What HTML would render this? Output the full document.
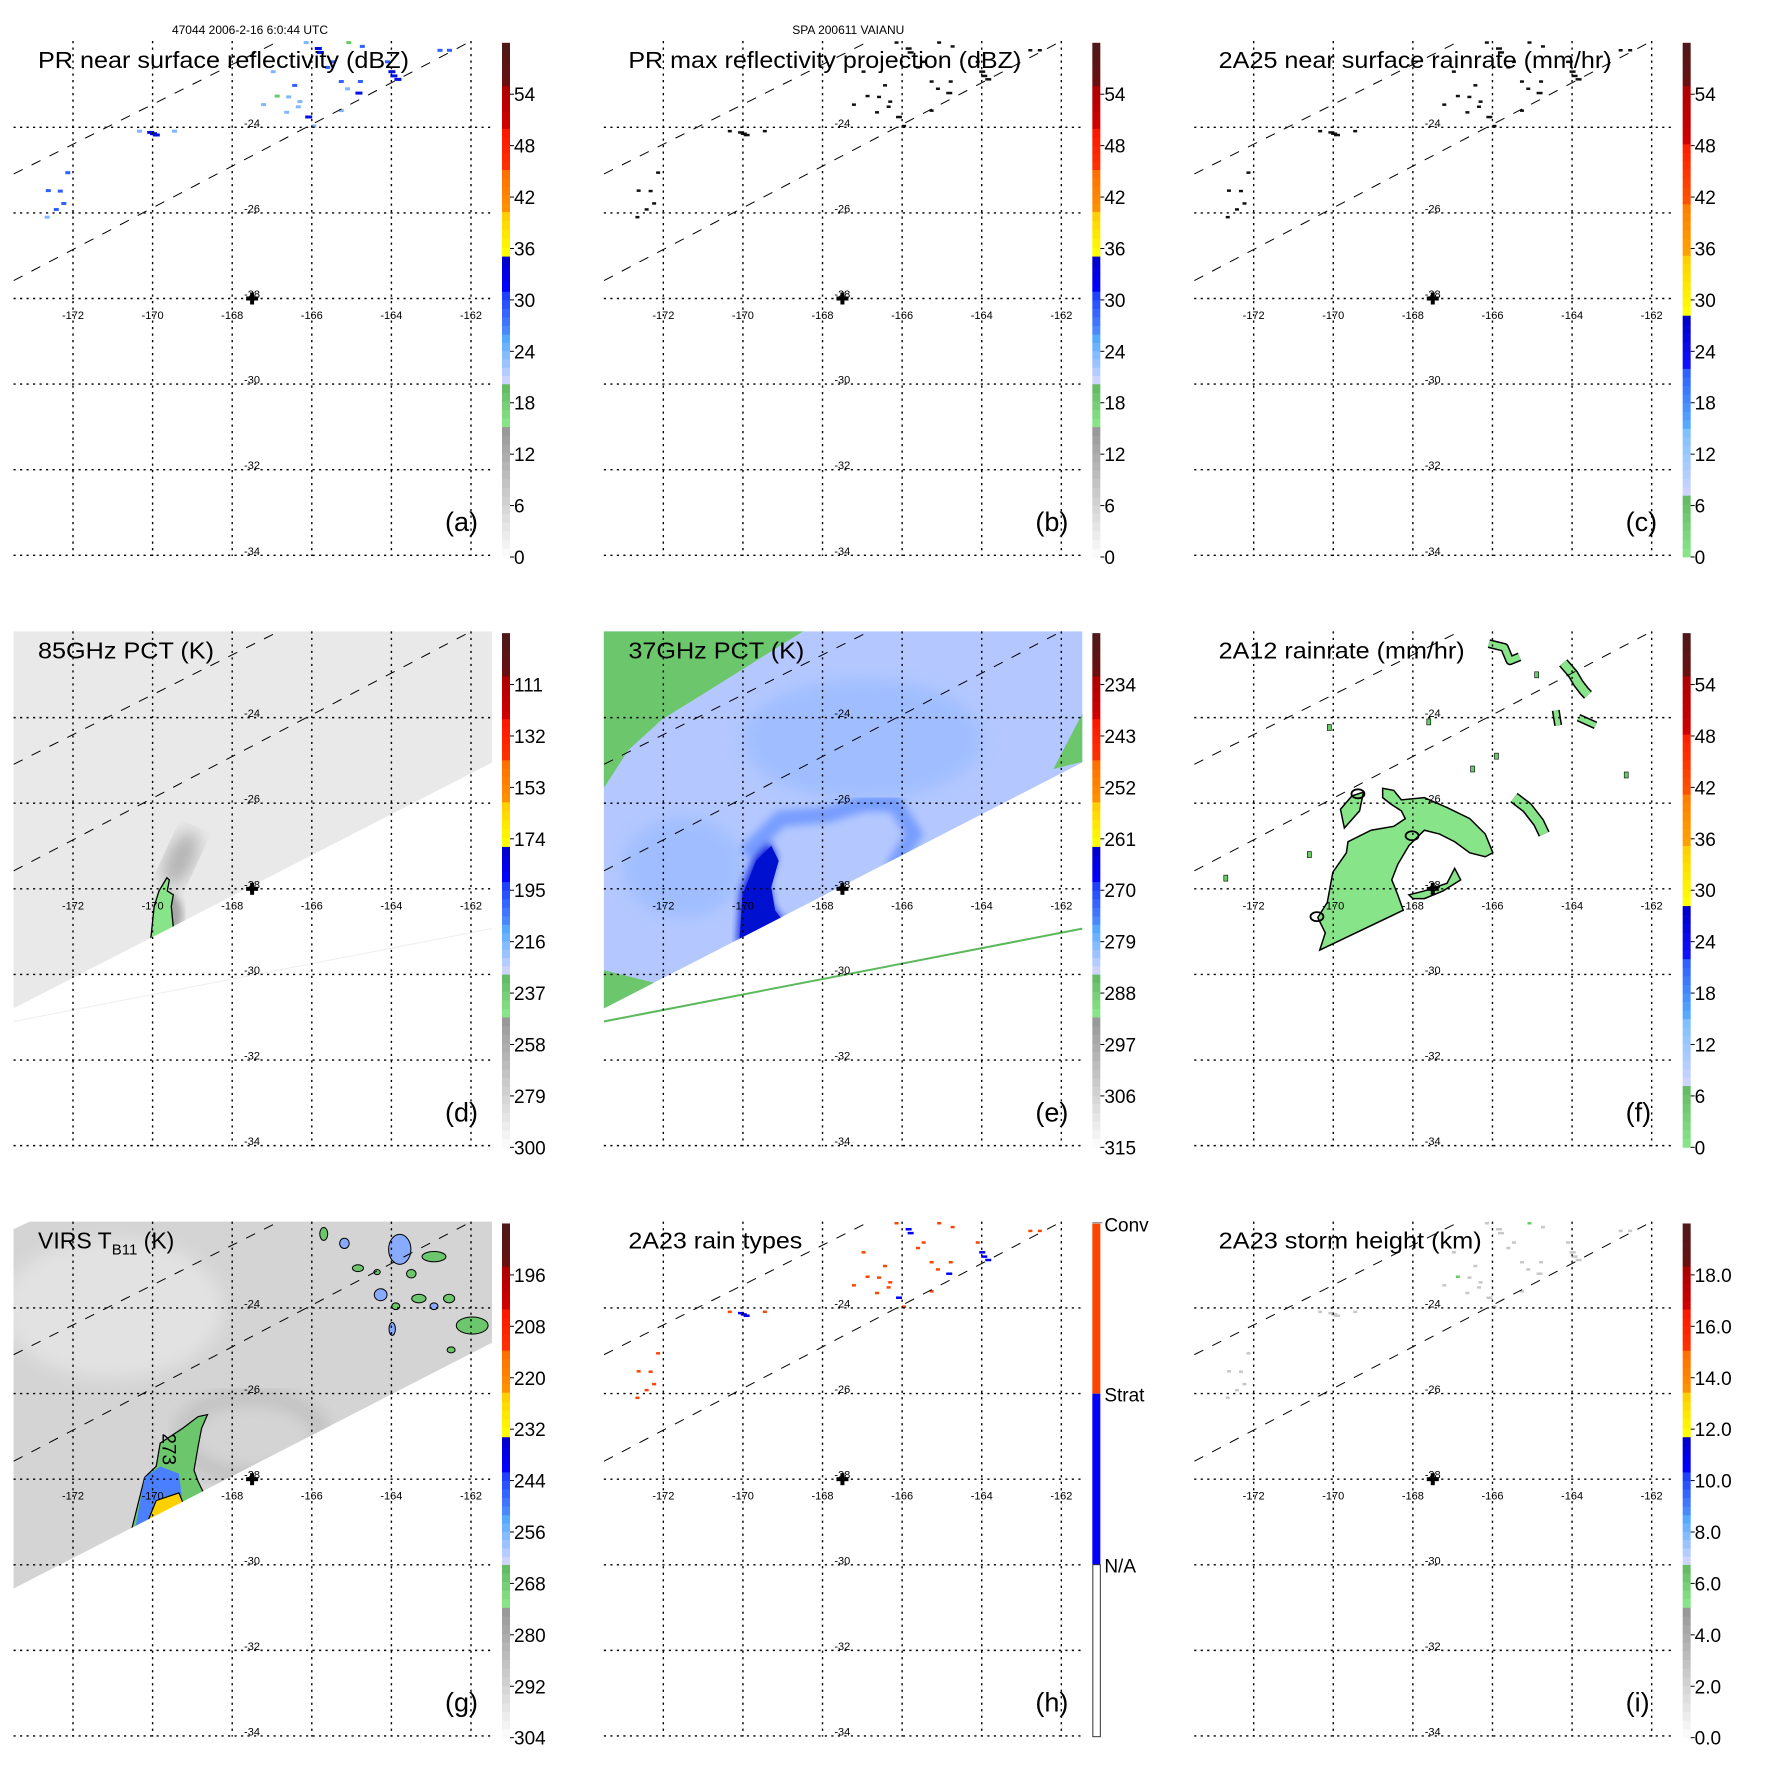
<!DOCTYPE html>
<html><head><meta charset="utf-8">
<style>
html,body{margin:0;padding:0;background:#fff;width:1771px;height:1771px;overflow:hidden;}
svg{display:block;position:absolute;left:0;top:0;font-family:"Liberation Sans",sans-serif;}
</style></head>
<body>
<svg id="fig" width="1771" height="1771" viewBox="0 0 1771 1771" overflow="hidden" xmlns="http://www.w3.org/2000/svg">
<defs>
<filter id="blur4"><feGaussianBlur stdDeviation="4"/></filter>
<filter id="blur8"><feGaussianBlur stdDeviation="8"/></filter>
</defs>
</svg>
<script>
// ---------- data ----------
const lonTicks = [-172,-170,-168,-166,-164,-162];
const latTicks = [-24,-26,-28,-30,-32,-34];
const lonLabels = ["-172","-170","-168","-166","-164","-162"];
const latLabels = ["-24","-26","-28","-30","-32","-34"];
const extentLon = [-173.5,-161.47];
const extentLat = [-34.02,-21.98];
const centerLon = -167.5, centerLat = -28;

const titles = ["PR near surface reflectivity (dBZ)","PR max reflectivity projection (dBZ)","2A25 near surface rainrate (mm/hr)",
  "85GHz PCT (K)","37GHz PCT (K)","2A12 rainrate (mm/hr)","VIRS T_B11 (K)","2A23 rain types","2A23 storm height (km)"];
const titleWidths = [371,393,393,176,176,246,148,174,263];
const letters = ["(a)","(b)","(c)","(d)","(e)","(f)","(g)","(h)","(i)"];
const cbLabelsA = ["54","48","42","36","30","24","18","12","6","0"];
const cbLabelsC = ["54","48","42","36","30","24","18","12","6","0"];
const cbLabelsD = ["111","132","153","174","195","216","237","258","279","300"];
const cbLabelsE = ["234","243","252","261","270","279","288","297","306","315"];
const cbLabelsF = ["54","48","42","36","30","24","18","12","6","0"];
const cbLabelsG = ["196","208","220","232","244","256","268","280","292","304"];
const cbLabelsI = ["18.0","16.0","14.0","12.0","10.0","8.0","6.0","4.0","2.0","0.0"];
const cbTickValues = [54,48,42,36,30,24,18,12,6,0];
const rainTypeLabels = ["Conv","Strat","N/A"];

const dash1Lon = [-173.49,-166.9], dash1Lat = [-25.09,-22.02];
const dash2Lon = [-173.49,-162.13], dash2Lat = [-27.58,-22.05];

const speckLon = [-169.99,-169.92,-170.06,-170.33,-169.45,-172.62,-172.32,-172.23,-172.42,-172.65,-172.13,-166.43,-166.58,-166.34,-166.63,-166.09,-167.21,-165.95,-165.85,-165.80,-165.46,-165.26,-164.78,-164.83,-164.00,-163.85,-164.10,-165.26,-162.78,-162.54,-164.73,-166.87,-165.07,-166.14,-166.97,-165.60,-163.95,-166.30,-165.10];
const speckLat = [-24.15,-24.18,-24.12,-24.09,-24.09,-25.48,-25.49,-25.78,-25.92,-26.10,-25.06,-23.02,-23.29,-23.52,-23.65,-23.76,-23.47,-23.97,-22.16,-22.25,-22.47,-22.93,-22.93,-23.20,-22.70,-22.88,-22.47,-23.61,-22.20,-22.20,-22.11,-23.27,-22.02,-22.02,-22.70,-22.60,-22.80,-23.40,-23.10];
const speckKind = ["d","d","d","l","l","b","b","b","b","l","b","b","l","l","l","d","l","l","d","d","b","b","b","d","d","d","b","l","b","b","b","g","g","l","l","b","d","l","l"];

const d85Lon = [-170.06,-169.96,-169.84,-169.64,-169.58,-169.63,-169.48,-169.53,-169.48,-169.26];
const d85Lat = [-29.30,-28.41,-28.05,-27.74,-27.79,-28.05,-28.14,-28.41,-28.90,-28.94];
const pmSwathLon = [-173.5,-161.47], pmSwathLat = [-30.8,-25.05];
const virsSwathLon = [-173.5,-161.47], virsSwathLat = [-30.56,-24.81];
const faintLineLat = [-31.1,-28.93];
const e37DarkLon = [-170.15,-170.06,-169.72,-169.34,-169.15,-169.34,-169.24,-168.96];
const e37DarkLat = [-29.30,-28.05,-27.25,-26.90,-27.25,-27.87,-28.41,-28.76];
const e37RingLon = [-169.82,-169.05,-167.90,-166.95,-166.18,-165.70,-166.18];
const e37RingLat = [-27.07,-26.36,-26.27,-26.01,-26.01,-26.72,-27.43];
const e37GreenLon = [-173.5,-168.48,-170.97,-172.03,-172.88,-173.5];
const e37GreenLat = [-21.98,-21.98,-23.43,-24.04,-24.76,-25.65];
const e37Green2Lon = [-173.5,-172.2,-173.5];
const e37Green2Lat = [-29.9,-30.2,-30.8];
const e37Green3Lon = [-161.47,-162.2,-161.47];
const e37Green3Lat = [-23.9,-25.2,-25.03];
const fOuterLon = [-170.34,-170.20,-170.39,-170.15,-170.01,-169.67,-169.63,-169.05,-168.48,-168.19,-168.29,-168.57,-168.76,-168.76,-168.48,-168.29,-167.71,-167.14,-166.57,-166.18,-165.99,-166.18,-166.57,-166.95,-167.33,-167.71,-168.10,-168.38,-168.53,-168.38,-168.24];
const fOuterLat = [-29.43,-29.03,-28.67,-28.32,-27.61,-27.16,-26.90,-26.63,-26.54,-26.36,-26.18,-26.01,-25.87,-25.65,-25.70,-25.92,-25.87,-26.10,-26.36,-26.72,-27.16,-27.25,-27.16,-26.90,-26.72,-26.63,-26.99,-27.43,-27.79,-28.14,-28.50];
const fStarLon = [-168.10,-167.71,-167.14,-166.95,-166.80,-167.24,-167.71,-168.00];
const fStarLat = [-28.14,-28.05,-27.87,-27.52,-27.79,-28.05,-28.23,-28.23];
const fLeftLon = [-169.72,-169.82,-169.53,-169.24,-169.34];
const fLeftLat = [-26.58,-26.14,-25.83,-25.74,-26.18];
const fRingLon = [-169.38,-168.02,-170.41];
const fRingLat = [-25.78,-26.76,-28.65];
const fStripALon = [-166.09,-165.70,-165.56,-165.32], fStripALat = [-22.27,-22.36,-22.67,-22.58];
const fStripBLon = [-164.22,-163.98,-163.84,-163.69,-163.60], fStripBLat = [-22.72,-22.98,-23.20,-23.38,-23.47];
const fStripCLon = [-164.41,-164.35], fStripCLat = [-23.83,-24.18];
const fStripDLon = [-163.84,-163.41], fStripDLat = [-24.0,-24.18];
const fStripELon = [-165.46,-165.13,-164.84,-164.70], fStripELat = [-25.87,-26.10,-26.45,-26.72];
const fDotLon = [-170.10,-164.89,-162.64,-167.6,-165.9,-166.5,-172.7,-170.6];
const fDotLat = [-24.23,-23.00,-25.34,-24.1,-24.9,-25.2,-27.75,-27.2];
const gGreenLon = [-170.54,-170.20,-169.91,-169.81,-169.24,-168.86,-168.62,-168.77,-168.86,-168.96,-168.86,-168.67,-168.96,-170.02];
const gGreenLat = [-29.23,-27.96,-27.70,-27.16,-26.81,-26.54,-26.49,-26.81,-27.25,-27.79,-28.05,-28.41,-28.59,-29.03];
const gBlueLon = [-170.44,-170.20,-169.81,-169.34,-169.24,-170.02];
const gBlueLat = [-29.16,-27.96,-27.70,-27.87,-28.59,-29.03];
const gYellowLon = [-170.10,-169.91,-169.34,-169.20,-169.91];
const gYellowLat = [-28.94,-28.50,-28.32,-28.63,-29.03];
const gBlobLon = [-165.70,-165.18,-164.84,-164.36,-163.79,-163.50,-162.93,-164.27,-163.89,-163.31,-162.93,-162.55,-161.97,-163.98,-162.50];
const gBlobLat = [-22.27,-22.49,-23.07,-23.16,-22.63,-23.20,-22.80,-23.69,-23.96,-23.78,-23.96,-23.78,-24.41,-24.49,-24.98];
const gBlobRx = [0.10,0.12,0.14,0.08,0.28,0.12,0.30,0.16,0.10,0.18,0.10,0.14,0.40,0.08,0.10];
const gBlobRy = [0.15,0.12,0.08,0.06,0.35,0.10,0.12,0.14,0.08,0.10,0.08,0.10,0.20,0.15,0.07];

// ---------- helpers ----------
const NS = "http://www.w3.org/2000/svg";
const svg = document.getElementById("fig");
const P = 1771/3;
const X = lon => 73 + (lon + 172) * 39.8;
const Y = lat => 298.5 + (-28 - lat) * 42.8;
const BOT = extentLat[0];
function mk(tag, attrs, parent){ const e=document.createElementNS(NS,tag); for(const k in attrs) e.setAttribute(k,attrs[k]); if(parent) parent.appendChild(e); return e; }
function pts(lons,lats){ return lons.map((l,i)=>X(l).toFixed(1)+","+Y(lats[i]).toFixed(1)).join(" "); }
function hex(c){return [parseInt(c.slice(1,3),16),parseInt(c.slice(3,5),16),parseInt(c.slice(5,7),16)];}
function mix(a,b,t){const A=hex(a),B=hex(b);return "rgb("+A.map((v,i)=>Math.round(v+(B[i]-v)*t)).join(",")+")";}

const cbSegs1 = [[0,15.2,"#fafafa","#999999"],[15.2,20.2,"#88e488","#66bb66"],[20.2,26,"#ccd4ff","#55aaff"],[26,31,"#4a88ff","#2040ff"],[31,35.1,"#0000ff","#0000d0"],[35.1,40.3,"#ffff00","#ffd000"],[40.3,45.2,"#ff9000","#ff7000"],[45.2,50,"#ff3000","#ff1800"],[50,55,"#d00000","#b00000"],[55,60,"#681010","#501818"]];
const cbSegs2 = [[0,7.2,"#88e488","#66bb66"],[7.2,15,"#ccd4ff","#80c0ff"],[15,22,"#55aaff","#3060ff"],[22,28.2,"#1010ff","#0000cc"],[28.2,35.2,"#ffff00","#ffd000"],[35.2,41.2,"#ffa000","#ff8000"],[41.2,48.2,"#ff5000","#ff2000"],[48.2,55,"#d00000","#b00000"],[55,60,"#681010","#501818"]];
const cbY = v => 557 - v * 8.57;

function colorbar(g, segs, labels){
  const cb = mk("g",{},g);
  for(const s of segs){
    const n = Math.max(2, Math.round((s[1]-s[0])));
    for(let i=0;i<n;i++){
      const v0=s[0]+(s[1]-s[0])*i/n, v1=s[0]+(s[1]-s[0])*(i+1)/n;
      const r=mk("rect",{x:502,y:cbY(v1).toFixed(2),width:8,height:(cbY(v0)-cbY(v1)+0.4).toFixed(2),fill:mix(s[2],s[3],n>1?i/(n-1):0)},cb);
      
      
    }
  }
  labels.forEach((lab,i)=>{
    const v = cbTickValues[i];
    mk("line",{x1:510,x2:514,y1:cbY(v),y2:cbY(v),stroke:"#000","stroke-width":1},cb);
    const t=mk("text",{x:514,y:(cbY(v)+7).toFixed(1),"font-size":19,fill:"#000"},cb);
    t.textContent=lab;
    
    
  });
}
function rainTypeBar(g){
  const cb = mk("g",{},g);
  mk("rect",{x:502,y:43,width:8,height:170,fill:"#ff4400"},cb);
  mk("rect",{x:502,y:213,width:8,height:171,fill:"#0000ff"},cb);
  mk("rect",{x:502.5,y:384,width:7.5,height:172,fill:"#fff",stroke:"#333","stroke-width":1},cb);
  mk("line",{x1:502,x2:512,y1:42,y2:42,stroke:"#999","stroke-width":1.5},cb);
  [51,221,392].forEach((yy,i)=>{
    const t=mk("text",{x:514,y:yy,"font-size":19},cb); t.textContent=rainTypeLabels[i];
    
    
  });
}
function grid(g){
  const gr = mk("g",{},g);
  lonTicks.forEach(l=>mk("line",{x1:X(l),x2:X(l),y1:41,y2:556,stroke:"#000","stroke-width":1.4,"stroke-dasharray":"2.2,4.3"},gr));
  latTicks.forEach(l=>mk("line",{x1:13.5,x2:492,y1:Y(l),y2:Y(l),stroke:"#000","stroke-width":1.4,"stroke-dasharray":"2.2,4.3"},gr));
  lonTicks.forEach((l,i)=>{const t=mk("text",{x:X(l),y:319,"font-size":11,"text-anchor":"middle"},gr);t.textContent=lonLabels[i];
    });
  latTicks.forEach((l,i)=>{const t=mk("text",{x:252,y:Y(l)-0.5,"font-size":11,"text-anchor":"middle"},gr);t.textContent=latLabels[i];
    });
}
function dashes(g){
  const d = mk("g",{},g);
  mk("line",{x1:X(dash1Lon[0]),y1:Y(dash1Lat[0]),x2:X(dash1Lon[1]),y2:Y(dash1Lat[1]),stroke:"#000","stroke-width":1,"stroke-dasharray":"10,10"},d);
  mk("line",{x1:X(dash2Lon[0]),y1:Y(dash2Lat[0]),x2:X(dash2Lon[1]),y2:Y(dash2Lat[1]),stroke:"#000","stroke-width":1,"stroke-dasharray":"10,10"},d);
}
function marker(g){
  const m=mk("g",{},g);
  const cx=X(centerLon), cy=Y(centerLat);
  mk("line",{x1:cx-6,x2:cx+6,y1:cy,y2:cy,stroke:"#000","stroke-width":4},m);
  mk("line",{x1:cx,x2:cx,y1:cy-6,y2:cy+6,stroke:"#000","stroke-width":4},m);
}
function swathPoly(edgeLon, edgeLat){
  return pts([extentLon[0],extentLon[1],edgeLon[1],edgeLon[0]],[extentLat[1],extentLat[1],edgeLat[1],edgeLat[0]]);
}
function coverPoly(edgeLat){
  return pts([extentLon[0],extentLon[1],extentLon[1],extentLon[0]],[edgeLat[0],edgeLat[1],BOT,BOT]);
}
function specks(g, colorFn, w, h){
  const s=mk("g",{},g);
  speckLon.forEach((l,i)=>{
    const c=colorFn(speckKind[i]); if(!c) return;
    const big = speckKind[i]==="d";
    const r=mk("rect",{x:(X(l)-(big?w+1:w)/2).toFixed(1),y:(Y(speckLat[i])-h/2).toFixed(1),width:big?w+2:w,height:h,fill:c},s);
    
    
  });
}

// ---------- panels ----------
for(let p=0;p<9;p++){
  const col=p%3,row=Math.floor(p/3);
  const g=mk("g",{transform:`translate(${(col*P).toFixed(2)},${(row*P).toFixed(2)})`,},svg);
  const cid="clip"+p;
  const cp=mk("clipPath",{id:cid},g); mk("rect",{x:13.5,y:41,width:478.5,height:515},cp);
  const img=mk("g",{"clip-path":`url(#${cid})`,},g);

  if(p===0) specks(img,k=>({d:"#0010e0",b:"#3060ff",l:"#80b8ff",g:"#66cc66"})[k],5,3);
  if(p===1||p===2) specks(img,k=>"#111",4,2.5);
  if(p===3){
    mk("polygon",{points:swathPoly(pmSwathLon,pmSwathLat),fill:"#e9e9e9"},img);
    mk("ellipse",{cx:X(-169.3),cy:Y(-27.3),rx:14,ry:30,fill:"#888",opacity:0.55,filter:"url(#blur8)",transform:`rotate(25 ${X(-169.3)} ${Y(-27.3)})`},img);
    mk("ellipse",{cx:X(-169.6),cy:Y(-28.6),rx:14,ry:22,fill:"#777",opacity:0.6,filter:"url(#blur4)"},img);
    mk("polygon",{points:pts(d85Lon,d85Lat),fill:"#88e488",stroke:"#000","stroke-width":1.3,},img);
    mk("polygon",{points:coverPoly(pmSwathLat),fill:"#fff"},img);
    mk("line",{x1:X(extentLon[0]),y1:Y(faintLineLat[0]),x2:X(extentLon[1]),y2:Y(faintLineLat[1]),stroke:"#eee","stroke-width":1},img);
  }
  if(p===4){
    mk("polygon",{points:swathPoly(pmSwathLon,pmSwathLat),fill:"#b4c8ff"},img);
    mk("ellipse",{cx:X(-167),cy:Y(-24.5),rx:120,ry:60,fill:"#8cb4ff",opacity:0.5,filter:"url(#blur8)"},img);
    mk("ellipse",{cx:X(-171.5),cy:Y(-27.5),rx:60,ry:50,fill:"#8cb4ff",opacity:0.5,filter:"url(#blur8)"},img);
    mk("polygon",{points:pts(e37GreenLon,e37GreenLat),fill:"#6cc66c"},img);
    mk("polygon",{points:pts(e37Green2Lon,e37Green2Lat),fill:"#6cc66c"},img);
    mk("polygon",{points:pts(e37Green3Lon,e37Green3Lat),fill:"#6cc66c"},img);
    mk("polyline",{points:pts(e37RingLon,e37RingLat),fill:"none",stroke:"#5080ff","stroke-width":16,opacity:0.6,filter:"url(#blur4)","stroke-linecap":"round"},img);
    mk("polygon",{points:pts(e37DarkLon,e37DarkLat),fill:"#1020e0",filter:"url(#blur4)"},img);
    mk("polygon",{points:pts(e37DarkLon,e37DarkLat),fill:"#0010d0",transform:`translate(2,4)`},img);
    mk("polygon",{points:coverPoly(pmSwathLat),fill:"#fff"},img);
    mk("line",{x1:X(extentLon[0]),y1:Y(faintLineLat[0]),x2:X(extentLon[1]),y2:Y(faintLineLat[1]),stroke:"#5cb85c","stroke-width":2,},img);
  }
  if(p===5){
    const gs={fill:"#88e488",stroke:"#000","stroke-width":1.5};
    mk("polygon",Object.assign({points:pts(fOuterLon,fOuterLat),},gs),img);
    mk("polygon",Object.assign({points:pts(fStarLon,fStarLat)},gs),img);
    mk("polygon",Object.assign({points:pts(fLeftLon,fLeftLat)},gs),img);
    [[fStripALon,fStripALat,6],[fStripBLon,fStripBLat,8],[fStripCLon,fStripCLat,5],[fStripDLon,fStripDLat,5],[fStripELon,fStripELat,9]].forEach(s=>{
      mk("polyline",{points:pts(s[0],s[1]),fill:"none",stroke:"#000","stroke-width":s[2]+3,"stroke-linejoin":"round"},img);
      mk("polyline",{points:pts(s[0],s[1]),fill:"none",stroke:"#88e488","stroke-width":s[2],"stroke-linejoin":"round"},img);
    });
    fDotLon.forEach((l,i)=>mk("rect",{x:X(l)-2,y:Y(fDotLat[i])-3,width:4,height:6,fill:"#66cc66",stroke:"#000","stroke-width":0.6},img));
    fRingLon.forEach((l,i)=>mk("ellipse",{cx:X(l),cy:Y(fRingLat[i]),rx:6.5,ry:4.5,fill:"none",stroke:"#000","stroke-width":1.8},img));
  }
  if(p===6){
    mk("polygon",{points:pts([extentLon[0],-173.08,extentLon[1],virsSwathLon[1],virsSwathLon[0]],[-22.16,extentLat[1],extentLat[1],virsSwathLat[1],virsSwathLat[0]]),fill:"#d4d4d4"},img);
    mk("ellipse",{cx:X(-171),cy:Y(-24),rx:110,ry:70,fill:"#e2e2e2",filter:"url(#blur8)"},img);
    mk("ellipse",{cx:X(-167.5),cy:Y(-27),rx:70,ry:40,fill:"none",stroke:"#bdbdbd","stroke-width":14,filter:"url(#blur8)"},img);
    mk("polygon",{points:pts(gGreenLon,gGreenLat),fill:"#6cc66c",stroke:"#000","stroke-width":1.2,},img);
    mk("polygon",{points:pts(gBlueLon,gBlueLat),fill:"#4a80ff"},img);
    mk("polygon",{points:pts(gYellowLon,gYellowLat),fill:"#ffd000",stroke:"#000","stroke-width":1.2},img);
    gBlobLon.forEach((l,i)=>{
      const e=mk("ellipse",{cx:X(l),cy:Y(gBlobLat[i]),rx:gBlobRx[i]*39.8,ry:gBlobRy[i]*42.8,fill:i%3===1?"#88aaff":"#6cc66c",stroke:"#000","stroke-width":1},img);
      
      
    });
    mk("polygon",{points:coverPoly(virsSwathLat),fill:"#fff"},img);
    const t=mk("text",{x:0,y:0,"font-size":19,transform:`translate(${X(-169.75)},${Y(-27.3)}) rotate(90)`,"text-anchor":"middle"},img); t.textContent="273";
  }
  if(p===7) specks(img,k=>(k==="d"?"#0000ff":"#ff4400"),4,2.5);
  if(p===8) specks(img,k=>(k==="g"?"#66cc66":"#c8c8c8"),4,2.5);

  dashes(g); grid(g); marker(g);

  if(p===7) rainTypeBar(g);
  else colorbar(g,(p===2||p===5)?cbSegs2:cbSegs1,[cbLabelsA,cbLabelsA,cbLabelsC,cbLabelsD,cbLabelsE,cbLabelsF,cbLabelsG,null,cbLabelsI][p]);

  const tt=mk("text",{x:38,y:68,"font-size":23,},g);
  if(p===6){ tt.innerHTML='VIRS T<tspan font-size="15" dy="6">B11</tspan><tspan dy="-6"> (K)</tspan>'; }
  else { tt.textContent=titles[p]; tt.setAttribute("textLength",titleWidths[p]); tt.setAttribute("lengthAdjust","spacingAndGlyphs"); }
  const lt=mk("text",{x:445,y:531,"font-size":27,},g); lt.textContent=letters[p];
  if(p===0){const h=mk("text",{x:250,y:34,"font-size":12,"text-anchor":"middle",},g);h.textContent="47044 2006-2-16 6:0:44 UTC";}
  if(p===1){const h=mk("text",{x:258,y:34,"font-size":12,"text-anchor":"middle",},g);h.textContent="SPA 200611 VAIANU";}
}
</script>
</body></html>
